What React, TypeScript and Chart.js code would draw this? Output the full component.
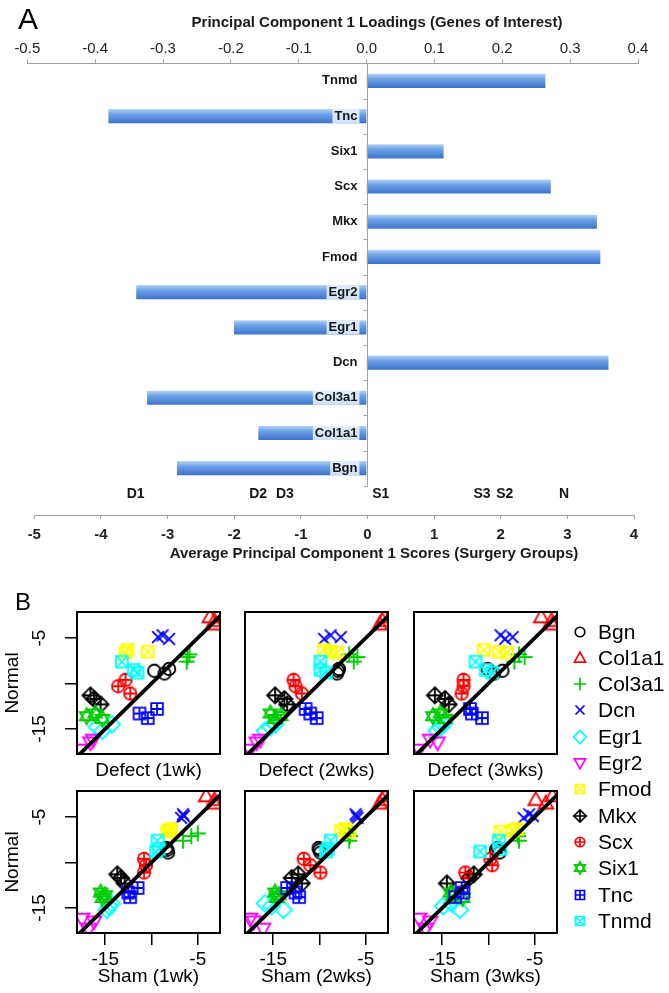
import React, { useEffect, useRef } from 'react';
import { Chart, registerables } from 'chart.js';

Chart.register(...registerables);

const FONT = '"Liberation Sans", Arial, Helvetica, sans-serif';

// ---------------- Panel A data ----------------
const loadingGenes = ['Tnmd', 'Tnc', 'Six1', 'Scx', 'Mkx', 'Fmod', 'Egr2', 'Egr1', 'Dcn', 'Col3a1', 'Col1a1', 'Bgn'];
const loadingValues = [0.263, -0.38, 0.113, 0.271, 0.339, 0.344, -0.339, -0.195, 0.356, -0.323, -0.159, -0.279];
const loadingTicks = [-0.5, -0.4, -0.3, -0.2, -0.1, 0, 0.1, 0.2, 0.3, 0.4];
const scoreTicks = [-5, -4, -3, -2, -1, 0, 1, 2, 3, 4];
const groupLabels = ['D1', 'D2', 'D3', 'S1', 'S3', 'S2', 'N'];
const groupScores = [-3.48, -1.64, -1.24, 0.2, 1.72, 2.06, 2.95];
const loadingTitle = 'Principal Component 1 Loadings (Genes of Interest)';
const scoreTitle = 'Average Principal Component 1 Scores (Surgery Groups)';

// ---------------- Panel B data ----------------
const genes = ['Bgn', 'Col1a1', 'Col3a1', 'Dcn', 'Egr1', 'Egr2', 'Fmod', 'Mkx', 'Scx', 'Six1', 'Tnc', 'Tnmd'];
const geneColors = ['#000000', '#ff0000', '#00cd00', '#0000ff', '#00ffff', '#ff00ff', '#ffff00', '#000000', '#ff0000', '#00cd00', '#0000ff', '#00ffff'];
const geneSymbols = ['circle', 'triUp', 'plus', 'cross', 'diamond', 'triDown', 'squareX', 'diamondPlus', 'circlePlus', 'star', 'squarePlus', 'squareX'];

// Normal (y) values, three replicates per gene
const normalY = [
  [-8.4, -8.6, -8.9],
  [-2.7, -3.1, -3.5],
  [-6.8, -7.1, -7.6],
  [-4.7, -4.9, -5.1],
  [-14.5, -14.8, -15.2],
  [-16.2, -16.5, -17.3],
  [-6.3, -6.5, -6.6],
  [-11.3, -11.7, -12.3],
  [-9.6, -10.3, -11.1],
  [-13.3, -13.6, -13.9],
  [-12.8, -13.3, -13.8],
  [-7.6, -8.5, -8.8],
];
const defect1wkX = [
  [-8.1, -9.7, -8.6], [-3.7, -3.2, -3.1], [-5.9, -6.1, -6.2], [-8.8, -9.3, -8.1],
  [-14.3, -15.9, -15.3], [-16.3, -16.6, -17.7], [-12.6, -10.4, -12.8], [-16.6, -16.2, -15.5],
  [-12.8, -13.6, -12.3], [-16.1, -17.0, -15.3], [-9.4, -11.3, -10.4], [-13.2, -11.9, -11.5],
];
const defect2wksX = [
  [-7.9, -8.0, -8.1], [-3.0, -3.2, -3.5], [-6.8, -5.9, -6.3], [-8.8, -7.7, -9.5],
  [-14.8, -15.3, -15.9], [-16.4, -16.8, -17.5], [-9.5, -8.8, -8.1], [-14.8, -13.8, -13.5],
  [-12.8, -12.6, -11.9], [-15.3, -14.2, -14.8], [-11.5, -11.0, -10.3], [-9.9, -9.9, -9.3],
];
const defect3wksX = [
  [-10.1, -8.5, -9.4], [-4.3, -3.2, -3.1], [-6.7, -6.1, -7.2], [-8.7, -7.4, -8.2],
  [-14.9, -15.2, -15.6], [-16.3, -15.5, -17.5], [-10.5, -8.9, -8.0], [-15.8, -14.7, -14.3],
  [-12.7, -12.7, -12.9], [-15.2, -16.0, -14.7], [-12.0, -11.8, -10.7], [-11.4, -10.3, -9.6],
];
const sham1wkX = [
  [-8.4, -8.3, -8.2], [-4.1, -3.2, -3.2], [-5.0, -5.7, -6.6], [-6.6, -6.5, -6.8],
  [-14.3, -14.6, -14.8], [-17.5, -16.2, -16.8], [-7.9, -8.1, -8.3], [-13.7, -13.3, -12.9],
  [-10.8, -10.6, -10.8], [-15.5, -15.0, -15.3], [-11.5, -12.5, -12.3], [-9.35, -9.2, -9.5],
];
const sham2wksX = [
  [-10.1, -10.0, -9.9], [-3.0, -3.2, -3.5], [-6.9, -6.7, -6.8], [-6.1, -6.0, -5.9],
  [-15.9, -15.2, -13.9], [-17.5, -17.1, -16.1], [-7.2, -7.7, -6.8], [-12.3, -13.0, -11.9],
  [-11.7, -11.0, -9.9], [-14.8, -14.4, -14.6], [-13.5, -12.6, -12.2], [-8.8, -9.1, -9.3],
];
const sham3wksX = [
  [-9.0, -9.2, -8.8], [-3.1, -4.9, -3.8], [-6.9, -6.8, -6.7], [-5.6, -5.2, -6.2],
  [-14.0, -14.9, -13.1], [-17.5, -16.3, -16.8], [-6.9, -7.4, -8.7], [-11.6, -12.1, -14.5],
  [-9.8, -9.6, -12.5], [-14.1, -13.8, -12.8], [-12.9, -12.7, -13.6], [-8.9, -8.7, -10.9],
];
const panelTicks = [-15, -10, -5];
const identityLine = [-20, 0];
const panelXRange = [-18.05, -2.6];
const panelYRange = [-17.75, -2.14];

const panels = [
  { xs: defect1wkX, label: 'Defect (1wk)', row: 0, col: 0 },
  { xs: defect2wksX, label: 'Defect (2wks)', row: 0, col: 1 },
  { xs: defect3wksX, label: 'Defect (3wks)', row: 0, col: 2 },
  { xs: sham1wkX, label: 'Sham (1wk)', row: 1, col: 0 },
  { xs: sham2wksX, label: 'Sham (2wks)', row: 1, col: 1 },
  { xs: sham3wksX, label: 'Sham (3wks)', row: 1, col: 2 },
];

// ---------------- symbols ----------------
function drawSymbol(ctx: any, kind: string, cx: number, cy: number, r: number, color: string, lw: number) {
  ctx.save();
  ctx.strokeStyle = color;
  ctx.lineWidth = lw;
  ctx.lineJoin = 'miter';
  ctx.beginPath();
  const line = (x1: number, y1: number, x2: number, y2: number) => {
    ctx.moveTo(cx + x1, cy + y1);
    ctx.lineTo(cx + x2, cy + y2);
  };
  const poly = (pts: number[][]) => {
    ctx.moveTo(cx + pts[0][0], cy + pts[0][1]);
    for (let i = 1; i < pts.length; i++) ctx.lineTo(cx + pts[i][0], cy + pts[i][1]);
    ctx.closePath();
  };
  const circ = (rr: number) => {
    ctx.moveTo(cx + rr, cy);
    ctx.arc(cx, cy, rr, 0, Math.PI * 2);
  };
  const sq = (h: number) => poly([[-h, -h], [h, -h], [h, h], [-h, h]]);
  const dia = (h: number) => poly([[0, -h], [h, 0], [0, h], [-h, 0]]);
  switch (kind) {
    case 'circle':
      circ(0.85 * r);
      break;
    case 'triUp':
      poly([[0, -1.05 * r], [1.0 * r, 0.72 * r], [-1.0 * r, 0.72 * r]]);
      break;
    case 'triDown':
      poly([[0, 1.05 * r], [1.0 * r, -0.72 * r], [-1.0 * r, -0.72 * r]]);
      break;
    case 'plus':
      line(-1.1 * r, 0, 1.1 * r, 0);
      line(0, -1.1 * r, 0, 1.1 * r);
      break;
    case 'cross':
      line(-0.8 * r, -0.8 * r, 0.8 * r, 0.8 * r);
      line(-0.8 * r, 0.8 * r, 0.8 * r, -0.8 * r);
      break;
    case 'diamond':
      dia(1.15 * r);
      break;
    case 'squareX':
      sq(0.8 * r);
      line(-0.8 * r, -0.8 * r, 0.8 * r, 0.8 * r);
      line(-0.8 * r, 0.8 * r, 0.8 * r, -0.8 * r);
      break;
    case 'diamondPlus':
      dia(1.1 * r);
      line(-1.1 * r, 0, 1.1 * r, 0);
      line(0, -1.1 * r, 0, 1.1 * r);
      break;
    case 'circlePlus':
      circ(0.85 * r);
      line(-0.85 * r, 0, 0.85 * r, 0);
      line(0, -0.85 * r, 0, 0.85 * r);
      break;
    case 'star':
      poly([[0, -1.1 * r], [0.95 * r, 0.55 * r], [-0.95 * r, 0.55 * r]]);
      poly([[0, 1.1 * r], [0.95 * r, -0.55 * r], [-0.95 * r, -0.55 * r]]);
      break;
    case 'squarePlus':
      sq(0.8 * r);
      line(-0.8 * r, 0, 0.8 * r, 0);
      line(0, -0.8 * r, 0, 0.8 * r);
      break;
  }
  ctx.stroke();
  ctx.restore();
}

function makeSymbol(kind: string, color: string, r: number, lw: number) {
  const size = 2 * Math.ceil(1.25 * r + lw) + 2;
  const c = document.createElement('canvas');
  c.width = size;
  c.height = size;
  drawSymbol(c.getContext('2d'), kind, size / 2, size / 2, r, color, lw);
  return c;
}

// ---------------- Panel A chart ----------------
function LoadingsChart() {
  const ref = useRef<HTMLCanvasElement>(null);
  useEffect(() => {
    const n = loadingGenes.length;
    const decor = {
      id: 'decorA',
      afterDatasetsDraw(chart: any) {
        const { ctx, scales } = chart;
        const x = scales.x;
        const y = scales.y;
        const x2 = scales.x2;
        const x0 = Math.round(x.getPixelForValue(0)) + 0.5;
        ctx.save();
        // vertical zero axis with category ticks
        ctx.strokeStyle = '#a0a0a0';
        ctx.lineWidth = 1;
        ctx.beginPath();
        ctx.moveTo(x0, y.getPixelForValue(-0.5));
        ctx.lineTo(x0, y.getPixelForValue(n - 0.5));
        for (let i = 0; i <= n; i++) {
          const yy = Math.round(y.getPixelForValue(i - 0.5)) + 0.5;
          ctx.moveTo(x0 - 4, yy);
          ctx.lineTo(x0, yy);
        }
        ctx.stroke();
        // bottom axis line
        const by = Math.round(chart.chartArea.bottom) + 0.5;
        ctx.beginPath();
        ctx.moveTo(x2.getPixelForValue(scoreTicks[0]), by);
        ctx.lineTo(x2.getPixelForValue(scoreTicks[scoreTicks.length - 1]), by);
        ctx.stroke();
        // gene labels
        ctx.font = `bold 13px ${FONT}`;
        ctx.textAlign = 'right';
        ctx.textBaseline = 'middle';
        loadingGenes.forEach((g, i) => {
          const yy = y.getPixelForValue(i);
          const tx = x0 - 10;
          if (loadingValues[i] < 0) {
            const w = ctx.measureText(g).width;
            ctx.fillStyle = 'rgba(235,243,252,0.85)';
            ctx.fillRect(tx - w - 2, yy - 7, w + 4, 14);
          }
          ctx.fillStyle = '#151515';
          ctx.fillText(g, tx, yy);
        });
        // group labels
        ctx.font = `bold 14px ${FONT}`;
        ctx.textAlign = 'center';
        groupLabels.forEach((g, i) => {
          ctx.fillText(g, x2.getPixelForValue(groupScores[i]), y.getPixelForValue(11.75));
        });
        // titles
        ctx.font = `bold 15px ${FONT}`;
        ctx.fillStyle = '#1a1a1a';
        ctx.fillText(loadingTitle, 377, 23);
        ctx.fillText(scoreTitle, 374, 554);
        ctx.restore();
      },
    };
    const chart = new Chart(ref.current as HTMLCanvasElement, {
      type: 'bar',
      data: {
        datasets: [
          {
            data: loadingValues.map((v, i) => ({ x: v, y: i })),
            backgroundColor: (c: any) => {
              const ch = c.chart;
              const ys = ch.scales && ch.scales.y;
              if (!ys || c.dataIndex === undefined) return '#5f93de';
              const yc = ys.getPixelForValue(c.dataIndex);
              if (!isFinite(yc)) return '#5f93de';
              const g = ch.ctx.createLinearGradient(0, yc - 7, 0, yc + 7);
              g.addColorStop(0, '#b4d2f7');
              g.addColorStop(0.35, '#6fa2e6');
              g.addColorStop(1, '#3b73cb');
              return g;
            },
            borderWidth: 0,
            barThickness: 13.5,
            xAxisID: 'x',
            yAxisID: 'y',
          } as any,
        ],
      },
      options: {
        indexAxis: 'y',
        animation: false,
        responsive: false,
        maintainAspectRatio: false,
        layout: { padding: { left: 27.3, right: 31, top: 0, bottom: 0 } },
        plugins: { legend: { display: false }, tooltip: { enabled: false } },
        scales: {
          y: { type: 'linear', min: -0.5, max: 12.33, reverse: true, offset: false, display: false },
          x: {
            type: 'linear',
            position: 'top',
            min: -0.5,
            max: 0.4,
            offset: false,
            afterBuildTicks: (s: any) => {
              s.ticks = loadingTicks.map((v) => ({ value: v }));
            },
            afterFit: (s: any) => {
              s.height = 63.3;
            },
            ticks: {
              callback: (v: any) => Number(v).toFixed(1),
              font: { size: 15, family: FONT },
              color: '#222',
              padding: 1.3,
              maxRotation: 0,
              autoSkip: false,
            },
            grid: { drawOnChartArea: false, tickLength: 4, color: '#a0a0a0' },
            border: { color: '#a0a0a0' },
          },
          x2: {
            type: 'linear',
            axis: 'x',
            position: 'bottom',
            min: -5.105,
            max: 4.06,
            offset: false,
            afterBuildTicks: (s: any) => {
              s.ticks = scoreTicks.map((v) => ({ value: v }));
            },
            afterFit: (s: any) => {
              s.height = 55;
            },
            ticks: {
              callback: (v: any) => String(v),
              font: { size: 15, family: FONT, weight: 'bold' },
              color: '#222',
              padding: 7,
              maxRotation: 0,
              autoSkip: false,
            },
            grid: { drawOnChartArea: false, tickLength: 4, color: '#a0a0a0' },
            border: { display: false },
          },
        } as any,
      } as any,
      plugins: [decor],
    });
    return () => chart.destroy();
  }, []);
  return (
    <canvas
      ref={ref}
      width={669}
      height={570}
      style={{ position: 'absolute', left: 0, top: 0, width: 669, height: 570 }}
    />
  );
}

// ---------------- Panel B charts ----------------
const FRAME_L = [77, 245, 414];
const FRAME_T = [612, 791];
const FRAME_W = 143;
const FRAME_H = 142;

function ScatterPanel({ xs, label, row, col }: { xs: number[][]; label: string; row: number; col: number }) {
  const ref = useRef<HTMLCanvasElement>(null);
  const padTop = 25;
  const padRight = 10;
  const yW = 77;
  const xH = row === 0 ? 28 : 55;
  const left = FRAME_L[col] - yW;
  const top = FRAME_T[row] - padTop;
  const width = yW + FRAME_W + padRight;
  const height = padTop + FRAME_H + xH;
  useEffect(() => {
    const showY = col === 0;
    const showX = row === 1;
    const datasets: any[] = [
      {
        data: identityLine.map((v) => ({ x: v, y: v })),
        showLine: true,
        borderColor: '#000',
        borderWidth: 3.8,
        pointRadius: 0,
        order: -1,
      },
    ];
    genes.forEach((g, i) => {
      datasets.push({
        label: g,
        data: xs[i].map((x, k) => ({ x, y: normalY[i][k] })),
        pointStyle: makeSymbol(geneSymbols[i], geneColors[i], 7.3, 1.85),
        pointRadius: 6,
        showLine: false,
        order: genes.length - i,
      });
    });
    const frame = {
      id: 'frame',
      afterDatasetsDraw(chart: any) {
        const { ctx, chartArea: a } = chart;
        ctx.save();
        ctx.strokeStyle = '#000';
        ctx.lineWidth = 2;
        ctx.strokeRect(a.left, a.top, a.right - a.left, a.bottom - a.top);
        ctx.restore();
      },
    };
    const chart = new Chart(ref.current as HTMLCanvasElement, {
      type: 'scatter',
      data: { datasets },
      options: {
        animation: false,
        responsive: false,
        maintainAspectRatio: false,
        layout: { padding: { top: padTop, right: padRight, left: 0, bottom: 0 } },
        plugins: { legend: { display: false }, tooltip: { enabled: false } },
        scales: {
          x: {
            type: 'linear',
            position: 'bottom',
            min: panelXRange[0],
            max: panelXRange[1],
            afterBuildTicks: (s: any) => {
              s.ticks = panelTicks.map((v) => ({ value: v }));
            },
            afterFit: (s: any) => {
              s.height = xH;
            },
            ticks: {
              display: showX,
              callback: (v: any) => (v === -10 ? '' : String(v)),
              font: { size: 19, family: FONT },
              color: '#000',
              padding: 3.6,
              maxRotation: 0,
              autoSkip: false,
            },
            grid: { display: showX, drawOnChartArea: false, tickLength: 12, color: '#000', lineWidth: 1.5 },
            border: { display: false },
            title: { display: true, text: label, font: { size: 19, family: FONT }, color: '#000', padding: 0 },
          },
          y: {
            type: 'linear',
            position: 'left',
            min: panelYRange[0],
            max: panelYRange[1],
            afterBuildTicks: (s: any) => {
              s.ticks = panelTicks.map((v) => ({ value: v }));
            },
            afterFit: (s: any) => {
              s.width = yW;
            },
            ticks: {
              display: showY,
              callback: (v: any) => (v === -10 ? '' : String(v)),
              font: { size: 19, family: FONT },
              color: '#000',
              padding: 11.3,
              minRotation: 90,
              maxRotation: 90,
              crossAlign: 'center',
              autoSkip: false,
            },
            grid: { display: showY, drawOnChartArea: false, tickLength: 12, color: '#000', lineWidth: 1.5 },
            border: { display: false },
            title: { display: showY, text: 'Normal', font: { size: 19, family: FONT }, color: '#000', padding: { top: 1.6, bottom: 0 } },
          },
        } as any,
      } as any,
      plugins: [frame],
    });
    return () => chart.destroy();
  }, []);
  return (
    <canvas
      ref={ref}
      width={width}
      height={height}
      style={{ position: 'absolute', left, top, width, height }}
    />
  );
}

// ---------------- Legend ----------------
function LegendSymbol({ i, cx, cy }: { i: number; cx: number; cy: number }) {
  const ref = useRef<HTMLCanvasElement>(null);
  useEffect(() => {
    const c = ref.current as HTMLCanvasElement;
    const ctx = c.getContext('2d') as any;
    ctx.clearRect(0, 0, 22, 22);
    drawSymbol(ctx, geneSymbols[i], 11, 11, 5.6, geneColors[i], 1.7);
  }, []);
  return (
    <canvas ref={ref} width={22} height={22} style={{ position: 'absolute', left: cx - 11, top: cy - 11, width: 22, height: 22 }} />
  );
}

function Legend() {
  const y0 = 631.5;
  const dy = 26.3;
  return (
    <>
      {genes.map((g, i) => (
        <React.Fragment key={g}>
          <LegendSymbol i={i} cx={580} cy={y0 + i * dy} />
          <div
            style={{
              position: 'absolute',
              left: 598,
              top: y0 + i * dy - 12,
              height: 24,
              lineHeight: '24px',
              fontFamily: FONT,
              fontSize: 21,
              color: '#000',
              whiteSpace: 'nowrap',
            }}
          >
            {g}
          </div>
        </React.Fragment>
      ))}
    </>
  );
}

export default function App() {
  return (
    <div style={{ position: 'absolute', left: 0, top: 0, width: 669, height: 993, background: '#fff', overflow: 'hidden' }}>
      <LoadingsChart />
      {panels.map((p) => (
        <ScatterPanel key={p.label} xs={p.xs} label={p.label} row={p.row} col={p.col} />
      ))}
      <Legend />
      <div style={{ position: 'absolute', left: 18, top: 4, fontFamily: FONT, fontSize: 30, lineHeight: '30px', color: '#000' }}>A</div>
      <div style={{ position: 'absolute', left: 15, top: 590, fontFamily: FONT, fontSize: 24, lineHeight: '24px', color: '#000' }}>B</div>
    </div>
  );
}
